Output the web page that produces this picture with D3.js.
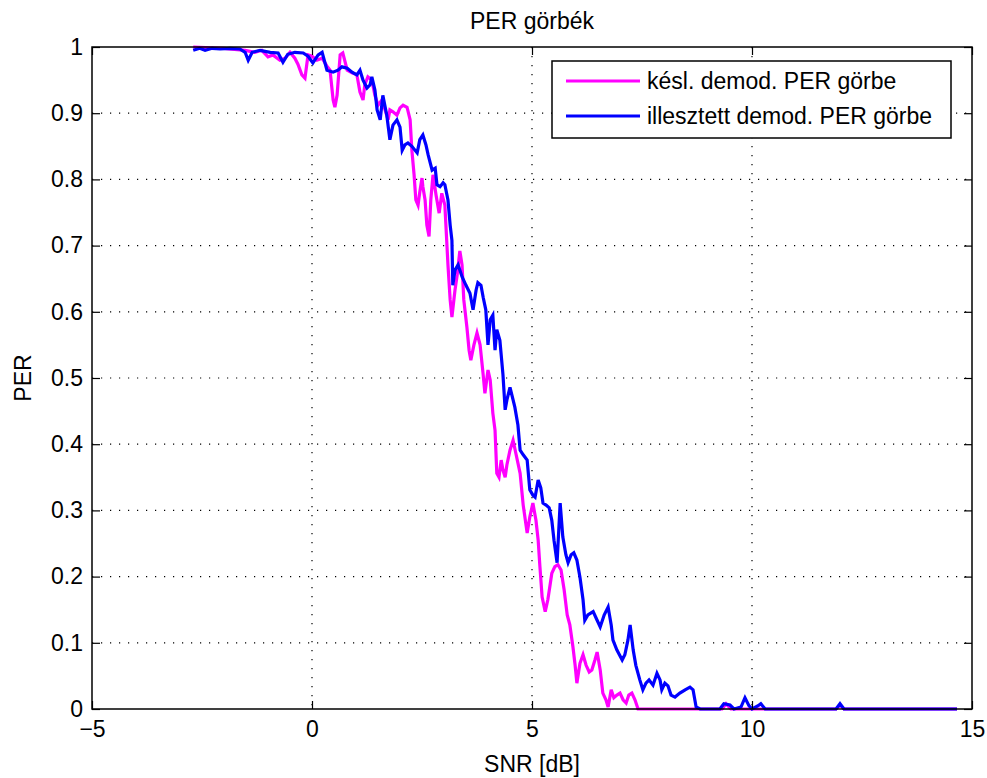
<!DOCTYPE html>
<html>
<head>
<meta charset="utf-8">
<script src="https://cdn.jsdelivr.net/npm/d3@7"></script>
<style>
    body { margin: 0; background: #fff; }
    svg { display: block; font-family: "Liberation Sans", Arial, sans-serif; }
</style>
</head>
<body>
<svg id="chart" width="987" height="778"></svg>
<script>

// series: SNR in dB, PER as fraction
const snrKesl = [-2.70, -2.00, -1.52, -1.30, -1.14, -1.00, -0.89, -0.73, -0.61, -0.50, -0.39, -0.32, -0.23, -0.16, -0.09, 0.00, 0.11, 0.23, 0.34, 0.41, 0.48, 0.52, 0.57, 0.64, 0.70, 0.80, 0.91, 1.02, 1.09, 1.16, 1.20, 1.27, 1.36, 1.43, 1.50, 1.59, 1.66, 1.73, 1.77, 1.84, 1.93, 2.00, 2.07, 2.16, 2.23, 2.27, 2.32, 2.36, 2.41, 2.45, 2.50, 2.52, 2.57, 2.61, 2.66, 2.70, 2.75, 2.82, 2.89, 2.95, 3.02, 3.09, 3.14, 3.18, 3.25, 3.30, 3.36, 3.41, 3.45, 3.52, 3.57, 3.61, 3.68, 3.75, 3.82, 3.89, 3.93, 4.00, 4.05, 4.11, 4.16, 4.20, 4.25, 4.30, 4.34, 4.39, 4.43, 4.50, 4.57, 4.64, 4.73, 4.80, 4.89, 4.95, 5.02, 5.09, 5.14, 5.18, 5.23, 5.30, 5.36, 5.41, 5.45, 5.52, 5.59, 5.66, 5.73, 5.80, 5.86, 5.93, 5.98, 6.02, 6.09, 6.16, 6.23, 6.30, 6.36, 6.43, 6.48, 6.55, 6.61, 6.68, 6.73, 6.80, 6.86, 6.93, 7.00, 7.07, 7.14, 7.20, 7.27, 7.34, 7.41, 9.32, 9.41, 9.52, 11.91, 12.00, 12.09, 14.66];
const perKesl = [1.000, 0.998, 0.995, 0.992, 0.995, 0.985, 0.988, 0.980, 0.983, 0.992, 0.983, 0.974, 0.958, 0.953, 0.988, 0.986, 0.980, 0.983, 0.971, 0.965, 0.920, 0.909, 0.927, 0.988, 0.991, 0.965, 0.961, 0.958, 0.932, 0.920, 0.943, 0.955, 0.950, 0.927, 0.912, 0.920, 0.905, 0.890, 0.905, 0.902, 0.897, 0.908, 0.912, 0.909, 0.890, 0.844, 0.807, 0.769, 0.761, 0.781, 0.802, 0.789, 0.769, 0.731, 0.714, 0.769, 0.807, 0.776, 0.749, 0.779, 0.761, 0.671, 0.618, 0.592, 0.633, 0.656, 0.692, 0.671, 0.618, 0.577, 0.542, 0.527, 0.550, 0.568, 0.550, 0.505, 0.477, 0.512, 0.497, 0.447, 0.421, 0.356, 0.350, 0.376, 0.361, 0.350, 0.369, 0.391, 0.406, 0.384, 0.356, 0.308, 0.266, 0.290, 0.311, 0.285, 0.255, 0.215, 0.169, 0.147, 0.165, 0.187, 0.205, 0.215, 0.218, 0.210, 0.180, 0.142, 0.127, 0.094, 0.066, 0.039, 0.069, 0.082, 0.066, 0.056, 0.059, 0.074, 0.086, 0.059, 0.024, 0.014, 0.003, 0.029, 0.017, 0.021, 0.024, 0.014, 0.009, 0.021, 0.024, 0.014, 0, 0, 0.008, 0, 0, 0.006, 0, 0];

const snrIllesztett = [-2.70, -2.55, -2.43, -2.27, -2.09, -1.86, -1.64, -1.52, -1.45, -1.36, -1.18, -0.95, -0.77, -0.66, -0.55, -0.39, -0.20, -0.09, 0.02, 0.14, 0.23, 0.34, 0.48, 0.59, 0.68, 0.80, 0.91, 1.02, 1.09, 1.16, 1.25, 1.32, 1.36, 1.43, 1.48, 1.55, 1.61, 1.70, 1.77, 1.84, 1.93, 2.00, 2.05, 2.11, 2.18, 2.27, 2.39, 2.45, 2.52, 2.59, 2.64, 2.73, 2.80, 2.84, 2.91, 2.98, 3.02, 3.09, 3.14, 3.18, 3.20, 3.25, 3.32, 3.41, 3.50, 3.59, 3.66, 3.73, 3.77, 3.84, 3.89, 3.95, 4.00, 4.05, 4.11, 4.16, 4.20, 4.27, 4.34, 4.39, 4.43, 4.50, 4.57, 4.61, 4.68, 4.73, 4.80, 4.89, 4.95, 5.02, 5.07, 5.14, 5.20, 5.25, 5.32, 5.39, 5.45, 5.50, 5.57, 5.64, 5.70, 5.77, 5.82, 5.89, 5.95, 6.02, 6.09, 6.16, 6.20, 6.27, 6.39, 6.48, 6.55, 6.64, 6.73, 6.80, 6.84, 6.93, 7.05, 7.11, 7.18, 7.23, 7.30, 7.36, 7.45, 7.52, 7.59, 7.66, 7.75, 7.84, 7.91, 7.95, 8.02, 8.09, 8.16, 8.25, 8.36, 8.48, 8.59, 8.66, 8.73, 8.82, 9.27, 9.36, 9.50, 9.59, 9.75, 9.84, 9.93, 10.00, 10.14, 10.20, 10.30, 11.91, 12.00, 12.09, 14.66];
const perIllesztett = [0.995, 0.998, 0.995, 0.998, 0.997, 0.998, 0.997, 0.992, 0.980, 0.992, 0.995, 0.992, 0.991, 0.977, 0.989, 0.992, 0.991, 0.986, 0.976, 0.988, 0.992, 0.965, 0.962, 0.965, 0.970, 0.968, 0.962, 0.958, 0.965, 0.950, 0.938, 0.943, 0.955, 0.935, 0.905, 0.890, 0.927, 0.897, 0.860, 0.882, 0.890, 0.879, 0.844, 0.852, 0.855, 0.850, 0.840, 0.860, 0.867, 0.852, 0.837, 0.814, 0.817, 0.792, 0.789, 0.795, 0.792, 0.769, 0.731, 0.708, 0.640, 0.663, 0.671, 0.653, 0.640, 0.628, 0.603, 0.633, 0.644, 0.640, 0.622, 0.603, 0.550, 0.588, 0.595, 0.542, 0.573, 0.557, 0.505, 0.452, 0.467, 0.486, 0.467, 0.456, 0.429, 0.391, 0.384, 0.376, 0.331, 0.323, 0.320, 0.346, 0.334, 0.311, 0.308, 0.304, 0.285, 0.255, 0.221, 0.311, 0.260, 0.233, 0.221, 0.233, 0.236, 0.225, 0.199, 0.165, 0.134, 0.142, 0.147, 0.134, 0.124, 0.142, 0.154, 0.127, 0.104, 0.089, 0.074, 0.082, 0.104, 0.127, 0.089, 0.066, 0.044, 0.029, 0.039, 0.044, 0.036, 0.054, 0.044, 0.029, 0.039, 0.035, 0.021, 0.018, 0.024, 0.029, 0.033, 0.029, 0.003, 0, 0, 0.008, 0.006, 0, 0.003, 0.017, 0.005, 0, 0.005, 0.008, 0, 0, 0.008, 0, 0];

const xTicks = [-5, 0, 5, 10, 15];
const yTicks = [0, 0.1, 0.2, 0.3, 0.4, 0.5, 0.6, 0.7, 0.8, 0.9, 1];

const seriesNames = ["késl. demod. PER görbe", "illesztett demod. PER görbe"];
const seriesColors = ["#ff00ff", "#0000ff"];

const svg = d3.select("#chart");

const plotLeft = 92, plotRight = 972, plotTop = 47, plotBottom = 709;
const fontSize = 23;

const x = d3.scaleLinear().domain([-5, 15]).range([plotLeft, plotRight]);
const y = d3.scaleLinear().domain([0, 1]).range([plotBottom, plotTop]);

//dotted grid at the interior ticks
const grid = svg.append("g")
    .attr("stroke", "#000")
    .attr("stroke-width", 1.2)
    .attr("stroke-dasharray", "1.2,7.8");

grid.selectAll("line.vx")
    .data(xTicks.slice(1, -1))
    .join("line")
    .attr("class", "vx")
    .attr("x1", d => x(d)).attr("x2", d => x(d))
    .attr("y1", plotTop).attr("y2", plotBottom);

grid.selectAll("line.hy")
    .data(yTicks.slice(1, -1))
    .join("line")
    .attr("class", "hy")
    .attr("x1", plotLeft).attr("x2", plotRight)
    .attr("y1", d => y(d)).attr("y2", d => y(d));

//the two curves, blue drawn last so it sits on top
const line = d3.line()
    .x(d => x(d[0]))
    .y(d => y(d[1]));

const series = [
    d3.zip(snrKesl, perKesl),
    d3.zip(snrIllesztett, perIllesztett)
];

svg.append("g")
    .selectAll("path")
    .data(series)
    .join("path")
    .attr("fill", "none")
    .attr("stroke", (d, i) => seriesColors[i])
    .attr("stroke-width", 3.2)
    .attr("stroke-linejoin", "miter")
    .attr("d", line);

//axes with inward ticks on all four sides
const fmtY = d => (d === 0 || d === 1) ? String(d) : d.toFixed(1);

const styleAxis = g => {
    g.select(".domain").remove();
    g.selectAll(".tick line").attr("stroke", "#000").attr("stroke-width", 1.2);
    g.selectAll(".tick text")
        .attr("fill", "#000")
        .attr("font-size", fontSize)
        .attr("font-family", "\"Liberation Sans\", Arial, sans-serif");
};

svg.append("g")
    .attr("transform", `translate(0,${plotBottom})`)
    .call(d3.axisBottom(x).tickValues(xTicks).tickSizeInner(-8).tickSizeOuter(0).tickPadding(12))
    .call(styleAxis);

svg.append("g")
    .attr("transform", `translate(0,${plotTop})`)
    .call(d3.axisTop(x).tickValues(xTicks).tickSizeInner(-8).tickSizeOuter(0).tickFormat(""))
    .call(styleAxis);

svg.append("g")
    .attr("transform", `translate(${plotLeft},0)`)
    .call(d3.axisLeft(y).tickValues(yTicks).tickSizeInner(-8).tickSizeOuter(0).tickPadding(9).tickFormat(fmtY))
    .call(styleAxis);

svg.append("g")
    .attr("transform", `translate(${plotRight},0)`)
    .call(d3.axisRight(y).tickValues(yTicks).tickSizeInner(-8).tickSizeOuter(0).tickFormat(""))
    .call(styleAxis);

svg.append("rect")
    .attr("x", plotLeft).attr("y", plotTop)
    .attr("width", plotRight - plotLeft).attr("height", plotBottom - plotTop)
    .attr("fill", "none")
    .attr("stroke", "#000")
    .attr("stroke-width", 1.5);

//title and axis labels
svg.append("text")
    .attr("x", (plotLeft + plotRight) / 2)
    .attr("y", 29)
    .attr("text-anchor", "middle")
    .attr("font-size", fontSize)
    .text("PER görbék");

svg.append("text")
    .attr("x", (plotLeft + plotRight) / 2)
    .attr("y", 772)
    .attr("text-anchor", "middle")
    .attr("font-size", fontSize)
    .text("SNR [dB]");

svg.append("text")
    .attr("transform", `translate(31,${(plotTop + plotBottom) / 2}) rotate(-90)`)
    .attr("text-anchor", "middle")
    .attr("font-size", fontSize)
    .text("PER");

//legend box
const legend = svg.append("g").attr("transform", "translate(552,61)");

legend.append("rect")
    .attr("width", 399)
    .attr("height", 77)
    .attr("fill", "#fff")
    .attr("stroke", "#000")
    .attr("stroke-width", 1.5);

const rows = legend.selectAll("g.row")
    .data(seriesNames)
    .join("g")
    .attr("class", "row")
    .attr("transform", (d, i) => `translate(0,${20 + i * 35})`);

rows.append("line")
    .attr("x1", 14).attr("x2", 88)
    .attr("stroke", (d, i) => seriesColors[i])
    .attr("stroke-width", 3.2);

rows.append("text")
    .attr("x", 95)
    .attr("dy", "0.35em")
    .attr("font-size", fontSize)
    .text(d => d);

</script>
</body>
</html>
